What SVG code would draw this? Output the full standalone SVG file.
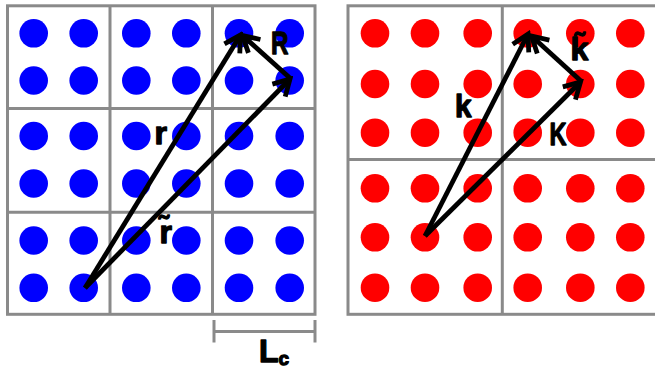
<svg xmlns="http://www.w3.org/2000/svg" width="655" height="369" viewBox="0 0 655 369">
  <defs>
    <style>
      .grid { fill: none; stroke: #8a8a8a; stroke-width: 3; }
      .bd { fill: #0000ff; }
      .rd { fill: #ff0000; }
      .arrow { fill: none; stroke: #000; stroke-width: 4.8; stroke-linecap: butt; marker-end: url(#chev); }
      .lbl { font-family: "Liberation Sans", Arial, sans-serif; font-weight: bold; font-size: 32px; fill: #000; stroke: #000; stroke-width: 1.3; stroke-linejoin: round; }
    </style>
    <marker id="chev" markerUnits="userSpaceOnUse" viewBox="-20 -12 24 24" refX="0" refY="0" markerWidth="24" markerHeight="24" orient="auto">
      <path d="M-16,-9 L0,0 L-16,9" fill="none" stroke="#000" stroke-width="4.8" stroke-linejoin="miter"/>
    </marker>
    <circle id="b" r="14.3" class="bd"/>
    <circle id="d" r="14.3" class="rd"/>
  </defs>
  <rect width="655" height="369" fill="#fff"/>

  <g id="real-space">
    <g id="real-grid" class="grid">
      <rect x="7.5" y="5.8" width="307.5" height="308.5"/>
      <line x1="110" y1="5.8" x2="110" y2="314.3"/>
      <line x1="212.5" y1="5.8" x2="212.5" y2="314.3"/>
      <line x1="7.5" y1="108.5" x2="315" y2="108.5"/>
      <line x1="7.5" y1="212.3" x2="315" y2="212.3"/>
    </g>
    <g id="real-dots">
      <use href="#b" x="33.7" y="33.3"/><use href="#b" x="83.7" y="33.3"/><use href="#b" x="136.3" y="33.3"/><use href="#b" x="186.3" y="33.3"/><use href="#b" x="239" y="33.3"/><use href="#b" x="289.7" y="33.3"/>
      <use href="#b" x="33.7" y="80.5"/><use href="#b" x="83.7" y="80.5"/><use href="#b" x="136.3" y="80.5"/><use href="#b" x="186.3" y="80.5"/><use href="#b" x="239" y="80.5"/><use href="#b" x="289.7" y="80.5"/>
      <use href="#b" x="33.7" y="136"/><use href="#b" x="83.7" y="136"/><use href="#b" x="136.3" y="136"/><use href="#b" x="186.3" y="136"/><use href="#b" x="239" y="136"/><use href="#b" x="289.7" y="136"/>
      <use href="#b" x="33.7" y="183.5"/><use href="#b" x="83.7" y="183.5"/><use href="#b" x="136.3" y="183.5"/><use href="#b" x="186.3" y="183.5"/><use href="#b" x="239" y="183.5"/><use href="#b" x="289.7" y="183.5"/>
      <use href="#b" x="33.7" y="240.5"/><use href="#b" x="83.7" y="240.5"/><use href="#b" x="136.3" y="240.5"/><use href="#b" x="186.3" y="240.5"/><use href="#b" x="239" y="240.5"/><use href="#b" x="289.7" y="240.5"/>
      <use href="#b" x="33.7" y="287.8"/><use href="#b" x="83.7" y="287.8"/><use href="#b" x="136.3" y="287.8"/><use href="#b" x="186.3" y="287.8"/><use href="#b" x="239" y="287.8"/><use href="#b" x="289.7" y="287.8"/>
    </g>
  </g>

  <g id="recip-space">
    <g id="recip-grid" class="grid">
      <rect x="348" y="5.8" width="312" height="308.5"/>
      <line x1="502.3" y1="5.8" x2="502.3" y2="314.3"/>
      <line x1="348" y1="159.5" x2="660" y2="159.5"/>
    </g>
    <g id="recip-dots">
      <use href="#d" x="375" y="33.3"/><use href="#d" x="425" y="33.3"/><use href="#d" x="477.7" y="33.3"/><use href="#d" x="527.7" y="33.3"/><use href="#d" x="580.3" y="33.3"/><use href="#d" x="630.3" y="33.3"/>
      <use href="#d" x="375" y="84"/><use href="#d" x="425" y="84"/><use href="#d" x="477.7" y="84"/><use href="#d" x="527.7" y="84"/><use href="#d" x="580.3" y="84"/><use href="#d" x="630.3" y="84"/>
      <use href="#d" x="375" y="132.7"/><use href="#d" x="425" y="132.7"/><use href="#d" x="477.7" y="132.7"/><use href="#d" x="527.7" y="132.7"/><use href="#d" x="580.3" y="132.7"/><use href="#d" x="630.3" y="132.7"/>
      <use href="#d" x="375" y="188.3"/><use href="#d" x="425" y="188.3"/><use href="#d" x="477.7" y="188.3"/><use href="#d" x="527.7" y="188.3"/><use href="#d" x="580.3" y="188.3"/><use href="#d" x="630.3" y="188.3"/>
      <use href="#d" x="375" y="237.3"/><use href="#d" x="425" y="237.3"/><use href="#d" x="477.7" y="237.3"/><use href="#d" x="527.7" y="237.3"/><use href="#d" x="580.3" y="237.3"/><use href="#d" x="630.3" y="237.3"/>
      <use href="#d" x="375" y="287.7"/><use href="#d" x="425" y="287.7"/><use href="#d" x="477.7" y="287.7"/><use href="#d" x="527.7" y="287.7"/><use href="#d" x="580.3" y="287.7"/><use href="#d" x="630.3" y="287.7"/>
    </g>
  </g>

  <g id="scale-bar" class="grid">
    <line x1="214" y1="331.5" x2="315" y2="331.5"/>
    <line x1="214" y1="320" x2="214" y2="342.5"/>
    <line x1="315" y1="320" x2="315" y2="342.5"/>
  </g>

  <g id="connectors">
    <line class="arrow" x1="85" y1="288" x2="240.5" y2="35"/>
    <line class="arrow" x1="85" y1="288" x2="290" y2="79"/>
    <line class="arrow" x1="290.5" y1="78.5" x2="242.5" y2="35.5"/>
    <line class="arrow" x1="425" y1="236" x2="528" y2="34"/>
    <line class="arrow" x1="425" y1="236" x2="580.5" y2="82"/>
    <line class="arrow" x1="581.5" y1="81.5" x2="531.5" y2="36"/>
  </g>

  <g id="labels">
    <text class="lbl" x="271" y="54" textLength="17.5" lengthAdjust="spacingAndGlyphs">R</text>
    <text class="lbl" x="154.5" y="143.5" textLength="12.5" lengthAdjust="spacingAndGlyphs">r</text>
    <text class="lbl" x="159.5" y="243">r̃</text>
    <text class="lbl" x="455" y="116.7" textLength="16.5" lengthAdjust="spacingAndGlyphs">k</text>
    <text class="lbl" x="549.5" y="145" textLength="17" lengthAdjust="spacingAndGlyphs">K</text>
    <text class="lbl" x="570.5" y="60">k̃</text>
    <text class="lbl" x="259" y="362">L<tspan font-size="19" dy="3">c</tspan></text>
  </g>
</svg>
